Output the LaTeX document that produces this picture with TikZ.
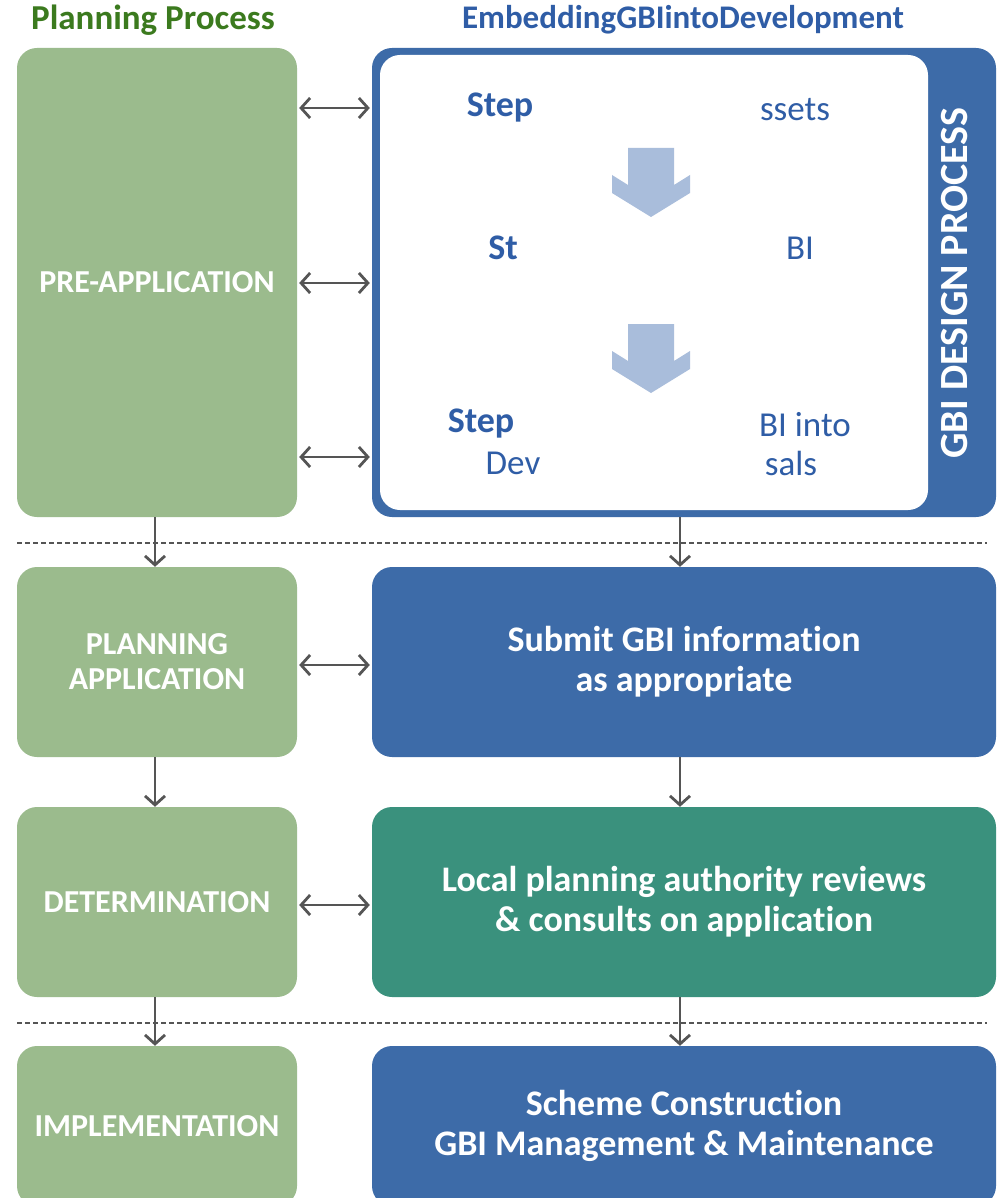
\documentclass[tikz,border=0pt]{standalone}
\usepackage{fontspec}
\setmainfont{Carlito}[Ligatures=NoCommon]
\usepackage{xcolor}
\usetikzlibrary{arrows.meta, positioning}

\definecolor{phasegreen}{HTML}{9BBB8D}
\definecolor{headgreen}{HTML}{3B7A1E}
\definecolor{gbiblue}{HTML}{3D6BA8}
\definecolor{headblue}{HTML}{2F5DA6}
\definecolor{gbiteal}{HTML}{3A917D}
\definecolor{chevron}{HTML}{A9BDDB}
\definecolor{linkgray}{HTML}{555555}

\tikzset{
  phase/.style={rectangle, rounded corners=20pt, fill=phasegreen, text=white,
    minimum width=280pt, align=center, font=\bfseries\fontsize{32}{35}\selectfont},
  stage/.style={rectangle, rounded corners=20pt, fill=gbiblue, text=white,
    minimum width=624pt, align=center, font=\bfseries\fontsize{36}{40}\selectfont},
  steptext/.style={text=headblue, font=\fontsize{35}{38}\selectfont, inner sep=0pt},
  stephead/.style={steptext, font=\bfseries\fontsize{36}{38}\selectfont},
  link/.style={{Straight Barb[length=9pt,width=20pt]}-{Straight Barb[length=9pt,width=20pt]}, line width=2.8pt, linkgray},
  flow/.style={-{Straight Barb[length=9pt,width=20pt]}, line width=2.8pt, linkgray},
  divider/.style={dash pattern=on 5pt off 3pt, line width=1.5pt, linkgray}
}

\begin{document}
\begin{tikzpicture}[x=1pt, y=-1pt]
    \useasboundingbox (0,0) rectangle (1005,1198);

    % Column headings
    \node[text=headgreen, font=\bfseries\fontsize{35}{38}\selectfont] (hplan) at (153,20) {Planning Process};
    \node[text=headblue, font=\bfseries\fontsize{33}{38}\selectfont] (hgbi) at (683,20) {EmbeddingGBIintoDevelopment};

    % Planning process phases
    \node[phase, minimum height=469pt] (pre) at (157,282.5) {PRE-APPLICATION};
    \node[phase, minimum height=190pt] (planapp) at (157,662) {PLANNING\\APPLICATION};
    \node[phase, minimum height=190pt] (determ) at (157,902) {DETERMINATION};
    \node[phase, minimum height=160pt] (impl) at (157,1126) {IMPLEMENTATION};

    % GBI design process
    \node[stage, minimum height=469pt] (design) at (684,282.5) {};
    \node[rectangle, rounded corners=20pt, fill=white, minimum width=548pt, minimum height=455pt] (inner) at (654,282.5) {};
    \node[rotate=90, text=white, font=\bfseries\fontsize{40}{42}\selectfont] (dlabel) at (955,283) {GBI DESIGN PROCESS};

    \node[stephead] (s1) at (500,108) {Step};
    \node[steptext] (s1r) at (795,110) {ssets};
    \node[stephead] (s2) at (503,248) {St};
    \node[steptext] (s2r) at (800,248) {BI};
    \node[stephead] (s3) at (481,424) {Step};
    \node[steptext] (s3b) at (513,463) {Dev};
    \node[steptext] (s3r) at (805,425) {BI into};
    \node[steptext] (s3rb) at (791,463) {sals};

    % Block arrows between steps
    \foreach \ytop in {148,324}{
      \fill[chevron] (628,\ytop) -- ++(46,0) -- ++(0,37) -- ++(16,-10) -- ++(0,18)
        -- ++(-39,24) -- ++(-39,-24) -- ++(0,-18) -- ++(16,10) -- cycle;
    }

    \node[stage, minimum height=190pt] (submit) at (684,662) {Submit GBI information\\as appropriate};
    \node[stage, fill=gbiteal, minimum height=190pt] (review) at (684,902) {Local planning authority reviews\\\& consults on application};
    \node[stage, minimum height=160pt] (build) at (684,1126) {Scheme Construction\\GBI Management \& Maintenance};

    % Links between columns
    \coordinate (r1) at (0,108);
    \coordinate (r2) at (0,283);
    \coordinate (r3) at (0,457);
    \foreach \r in {r1,r2,r3}{
      \draw[link] ([xshift=2pt]pre.east |- \r) -- ([xshift=-2pt]design.west |- \r);
    }
    \draw[link] ([xshift=2pt,yshift=-3pt]planapp.east) -- ([xshift=-2pt,yshift=-3pt]submit.west);
    \draw[link] ([xshift=2pt,yshift=-3pt]determ.east) -- ([xshift=-2pt,yshift=-3pt]review.west);

    % Flow downwards
    \draw[flow] ([xshift=-2pt]pre.south) -- ([xshift=-2pt]planapp.north);
    \draw[flow] ([xshift=-2pt]planapp.south) -- ([xshift=-2pt]determ.north);
    \draw[flow] ([xshift=-2pt]determ.south) -- ([xshift=-2pt]impl.north);
    \draw[flow] ([xshift=-4pt]design.south) -- ([xshift=-4pt]submit.north);
    \draw[flow] ([xshift=-4pt]submit.south) -- ([xshift=-4pt]review.north);
    \draw[flow] ([xshift=-4pt]review.south) -- ([xshift=-4pt]build.north);

    % Dividers
    \draw[divider] (17,543) -- (987,543);
    \draw[divider] (17,1023) -- (987,1023);
\end{tikzpicture}
\end{document}
